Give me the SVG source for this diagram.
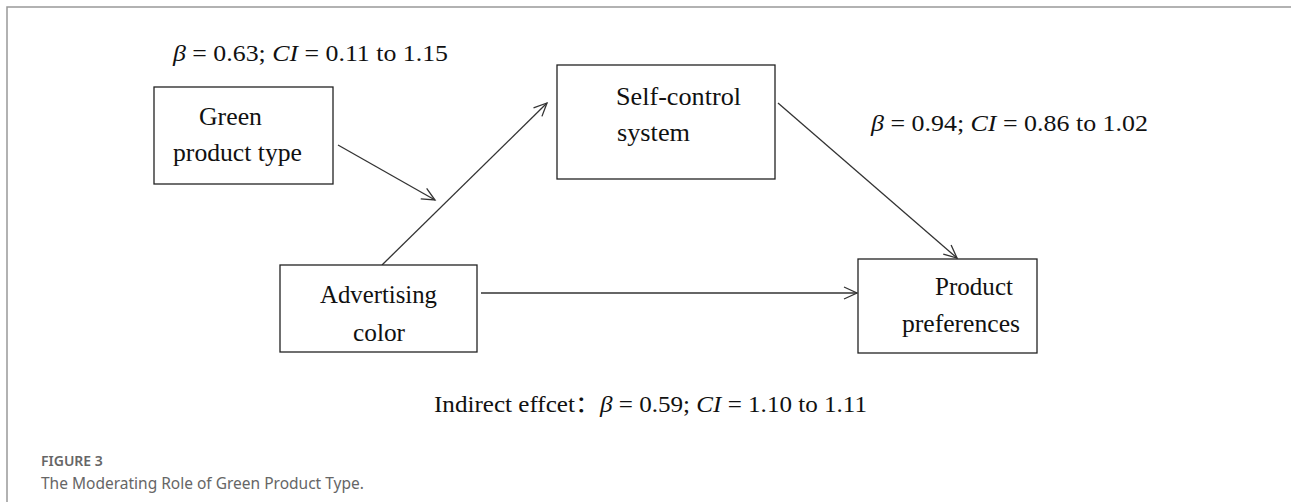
<svg xmlns="http://www.w3.org/2000/svg" width="1291" height="502" viewBox="0 0 1291 502">
  <defs>
    <marker id="arrow" markerUnits="userSpaceOnUse" markerWidth="16" markerHeight="14" refX="13" refY="6" orient="auto" overflow="visible">
      <path d="M0,0 L13,6 L0,12" fill="none" stroke="#333" stroke-width="1.3"/>
    </marker>
  </defs>
  <style>
    .box { fill: #fff; stroke: #222; stroke-width: 1.3; }
    .lbl { font-family: "Liberation Serif", "Times New Roman", serif; font-size: 26px; fill: #111; }
    .stat { font-family: "Liberation Serif", "Times New Roman", "Noto Sans CJK SC", serif; font-size: 23px; fill: #111; }
    .it { font-style: italic; }
    .conn { fill: none; stroke: #333; stroke-width: 1.3; marker-end: url(#arrow); }
    .frame { stroke: #999; fill: none; }
    .cap1 { font-family: "Noto Sans", "Open Sans", sans-serif; font-size: 14px; font-weight: 600; fill: #666; }
    .cap2 { font-family: "Noto Sans", "Open Sans", sans-serif; font-size: 15.5px; fill: #666; }
  </style>
  <rect width="1291" height="502" fill="#fff"/>
  <path class="frame" d="M7,502 L7,7 L1291,7" stroke-width="1.5"/>

  <g id="connectors">
    <line class="conn" x1="338" y1="145" x2="435" y2="200"/>
    <line class="conn" x1="382" y1="265" x2="547" y2="103"/>
    <line class="conn" x1="778" y1="103" x2="957" y2="258"/>
    <line class="conn" x1="481" y1="293" x2="857" y2="293" stroke="#444" stroke-width="1.5"/>
  </g>

  <g id="node-green">
    <rect class="box" x="154" y="87" width="179" height="97"/>
    <text class="lbl" x="199" y="125" textLength="63" lengthAdjust="spacingAndGlyphs">Green</text>
    <text class="lbl" x="173" y="161" textLength="129" lengthAdjust="spacingAndGlyphs">product type</text>
  </g>

  <g id="node-self">
    <rect class="box" x="557" y="65" width="218" height="114"/>
    <text class="lbl" x="616" y="105" textLength="125" lengthAdjust="spacingAndGlyphs">Self-control</text>
    <text class="lbl" x="617" y="141" textLength="73" lengthAdjust="spacingAndGlyphs">system</text>
  </g>

  <g id="node-adv">
    <rect class="box" x="280" y="265" width="197" height="87"/>
    <text class="lbl" x="320" y="303" textLength="117" lengthAdjust="spacingAndGlyphs">Advertising</text>
    <text class="lbl" x="353" y="341" textLength="52" lengthAdjust="spacingAndGlyphs">color</text>
  </g>

  <g id="node-product">
    <rect class="box" x="858" y="259" width="179" height="94"/>
    <text class="lbl" x="935" y="295" textLength="78" lengthAdjust="spacingAndGlyphs">Product</text>
    <text class="lbl" x="902" y="332" textLength="118" lengthAdjust="spacingAndGlyphs">preferences</text>
  </g>

  <g id="stats">
    <text class="stat" x="173" y="61" textLength="275" lengthAdjust="spacingAndGlyphs"><tspan class="it">β</tspan> = 0.63; <tspan class="it">CI</tspan> = 0.11 to 1.15</text>
    <text class="stat" x="871" y="131" textLength="277" lengthAdjust="spacingAndGlyphs"><tspan class="it">β</tspan> = 0.94; <tspan class="it">CI</tspan> = 0.86 to 1.02</text>
    <text class="stat" x="434" y="412" textLength="433" lengthAdjust="spacingAndGlyphs">Indirect effcet：<tspan class="it">β</tspan> = 0.59; <tspan class="it">CI</tspan> = 1.10 to 1.11</text>
  </g>

  <g id="caption">
    <text class="cap1" x="41" y="466">FIGURE 3</text>
    <text class="cap2" x="41" y="489">The Moderating Role of Green Product Type.</text>
  </g>
</svg>
